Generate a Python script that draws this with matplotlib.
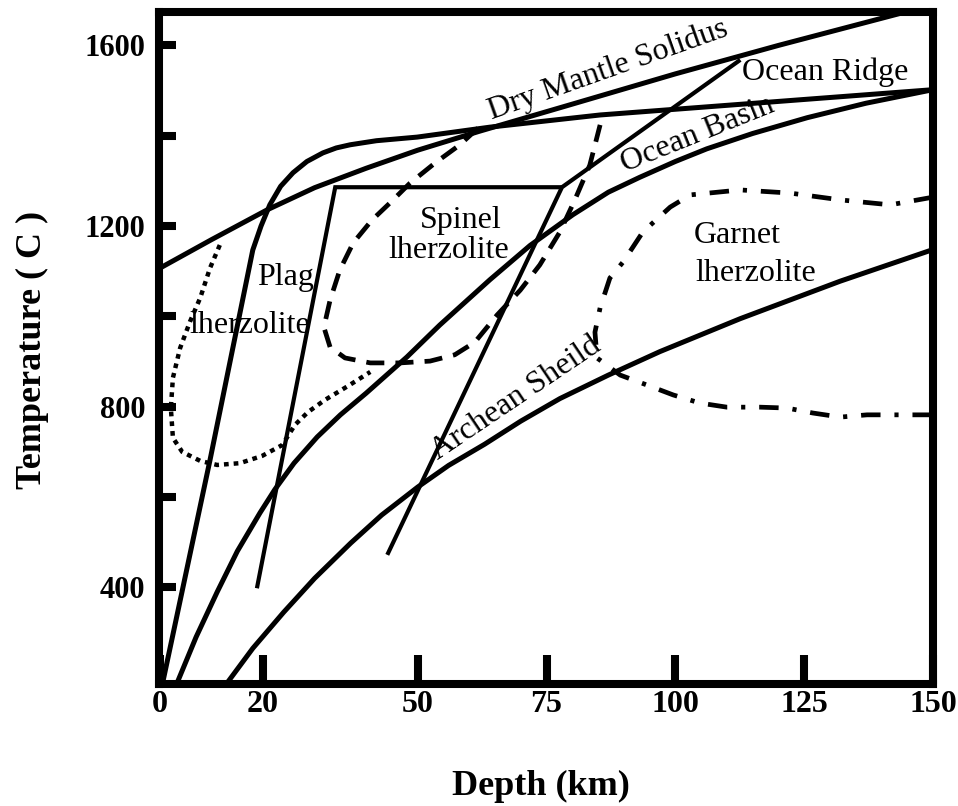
import matplotlib
matplotlib.use("Agg")
import matplotlib.pyplot as plt

plt.rcParams['font.family'] = ['Liberation Serif', 'DejaVu Serif']
plt.rcParams['lines.scale_dashes'] = False

# ---- geotherms and phase boundaries: depth (km) vs temperature (C) ----
solidus_depth = [0, 10, 20.8, 30, 40, 50, 62, 80, 100, 120, 150]
solidus_temp = [1107, 1170, 1236, 1285, 1328, 1368, 1410, 1470, 1537, 1600, 1690]

ridge_depth = [0.5, 9.7, 18.0, 19.6, 21.3, 23.4, 25.8, 28.5, 31.6, 34.2, 36.9,
               42.0, 49.9, 64.0, 85.4, 150]
ridge_temp = [188, 682, 1147, 1200, 1247, 1288, 1318, 1343, 1362, 1373, 1380,
              1389, 1397, 1419, 1446, 1502]

basin_depth = [3.3, 7.0, 11.1, 15.0, 19.4, 22.3, 26.0, 30.5, 35.0, 40.0, 47.9,
               54.3, 64.0, 71.8, 80.1, 87.0, 93.1, 100.0, 106.1, 115.0, 125.6,
               137.0, 150]
basin_temp = [188, 290, 390, 480, 565, 617, 675, 733, 782, 830, 910,
              981, 1081, 1157, 1225, 1275, 1308, 1343, 1371, 1405, 1440,
              1472, 1502]

shield_depth = [13.0, 18.0, 24.0, 30.0, 37.0, 43.0, 50.0, 56.0, 63.0, 70.0,
                77.6, 87.0, 97.0, 112.6, 132.0, 150]
shield_temp = [188, 265, 345, 420, 498, 560, 622, 670, 717, 768,
               818, 870, 922, 995, 1078, 1148]

plag_spinel_depth = [18.8, 34.0, 78.0]
plag_spinel_temp = [398, 1286, 1286]

spinel_garnet_depth = [44.1, 78.0, 112.6]
spinel_garnet_temp = [472, 1286, 1568]

# ---- xenolith fields ----
plag_field_depth = [11.6, 9.7, 7.8, 5.8, 3.9, 2.5, 2.1, 2.5, 4.3, 7.8, 11.1, 15.5,
                    19.8, 23.7, 26.2, 28.7, 32.0, 36.5, 40.8]
plag_field_temp = [1158, 1107, 1041, 988, 930, 864, 797, 731, 700, 680, 671, 675,
                   691, 715, 760, 788, 815, 846, 877]

spinel_field_depth = [61.7, 58.2, 53.4, 48.5, 44.6, 41.1, 37.5, 34.9, 33.0, 31.8,
                      33.0, 35.9, 40.8, 46.6, 52.4, 57.2, 61.1, 65.4, 69.9, 73.7,
                      77.6, 80.5, 83.4, 85.4]
spinel_field_temp = [1417, 1380, 1340, 1295, 1251, 1213, 1163, 1103, 1036, 976,
                     932, 908, 897, 897, 901, 915, 943, 1003, 1058, 1114,
                     1187, 1258, 1335, 1424]

garnet_field_depth = [150, 141.7, 132.0, 122.3, 112.6, 102.9, 99.0, 93.7, 89.9, 87.3,
                      85.4, 84.4, 84.8, 89.3, 94.5, 99.6, 104.8, 110.0, 116.4, 121.7,
                      126.7, 132.0, 137.2, 142.2, 150]
garnet_field_temp = [1264, 1247, 1258, 1273, 1280, 1269, 1242, 1187, 1121, 1085,
                     1019, 965, 908, 870, 848, 826, 808, 799, 799, 797,
                     786, 777, 782, 782, 782]

x_ticks = [0, 20, 50, 75, 100, 125, 150]
x_tick_labels = ['0', '20', '50', '75', '100', '125', '150']
y_ticks = [400, 600, 800, 1000, 1200, 1400, 1600]
y_tick_labels = ['400', '', '800', '', '1200', '', '1600']

fig = plt.figure(figsize=(9.58, 8.06), dpi=100)
ax = fig.add_axes([159 / 958, 1 - 684 / 806, (933 - 159) / 958, (684 - 12) / 806])
ax.set_xlim(-0.2, 150)
ax.set_ylim(186, 1674)

solid = dict(color='black', lw=3.6, solid_capstyle='butt', solid_joinstyle='round')
ax.plot(solidus_depth, solidus_temp, **solid)
ax.plot(ridge_depth, ridge_temp, **solid)
ax.plot(basin_depth, basin_temp, **solid)
ax.plot(shield_depth, shield_temp, **solid)
thin = dict(color='black', lw=3.0, solid_capstyle='butt', solid_joinstyle='miter')
ax.plot(plag_spinel_depth, plag_spinel_temp, **thin)
ax.plot(spinel_garnet_depth, spinel_garnet_temp, **thin)

ax.plot(plag_field_depth, plag_field_temp, color='black', lw=3.2,
        linestyle=(0, (3.4, 3.6)), dash_capstyle='butt')
ax.plot(spinel_field_depth, spinel_field_temp, color='black', lw=3.4,
        linestyle=(0, (13, 8)), dash_capstyle='butt')
ax.plot(garnet_field_depth, garnet_field_temp, color='black', lw=3.4,
        linestyle=(0, (14, 10, 3, 10)), dash_capstyle='butt')

# ---- labels on the diagram ----
lab = dict(fontsize=23, color='black', rotation_mode='anchor')
ax.text(87.5, 1530, 'Dry Mantle Solidus', rotation=19.5, ha='center', va='baseline', **lab)
ax.text(129.0, 1523, 'Ocean Ridge', ha='center', va='baseline', **lab)
ax.text(104.8, 1388, 'Ocean Basin', rotation=22, ha='center', va='baseline', **lab)
ax.text(69.9, 805, 'Archean Sheild', rotation=34, ha='center', va='baseline', **lab)
ax.text(58.4, 1196, 'Spinel', ha='center', va='baseline', **lab)
ax.text(56.0, 1129, 'lherzolite', ha='center', va='baseline', **lab)
ax.text(103.6, 1162, 'Garnet', ha='left', va='baseline', **lab)
ax.text(103.8, 1078, 'lherzolite', ha='left', va='baseline', **lab)
ax.text(24.3, 1069, 'Plag', ha='center', va='baseline', **lab)
ax.text(17.5, 963, 'lherzolite', ha='center', va='baseline', **lab)

# ---- frame and ticks ----
for sp in ax.spines.values():
    sp.set_linewidth(5.8)
ax.set_xticks(x_ticks)
ax.set_xticklabels(x_tick_labels)
ax.set_yticks(y_ticks)
ax.set_yticklabels(y_tick_labels)
ax.tick_params(axis='x', direction='in', length=21, width=5.8, pad=4, labelsize=23)
ax.tick_params(axis='y', direction='in', length=12, width=5.8, pad=10, labelsize=22)
for t in ax.get_xticklabels() + ax.get_yticklabels():
    t.set_fontweight('bold')

fig.text(541 / 958, 1 - 786 / 806, 'Depth (km)', fontsize=26, fontweight='bold',
         ha='center', va='center')
fig.text(32 / 958, 1 - 350 / 806, 'Temperature ( C )', fontsize=26, fontweight='bold',
         rotation=90, ha='center', va='center')

fig.savefig('out.png', dpi=100)
